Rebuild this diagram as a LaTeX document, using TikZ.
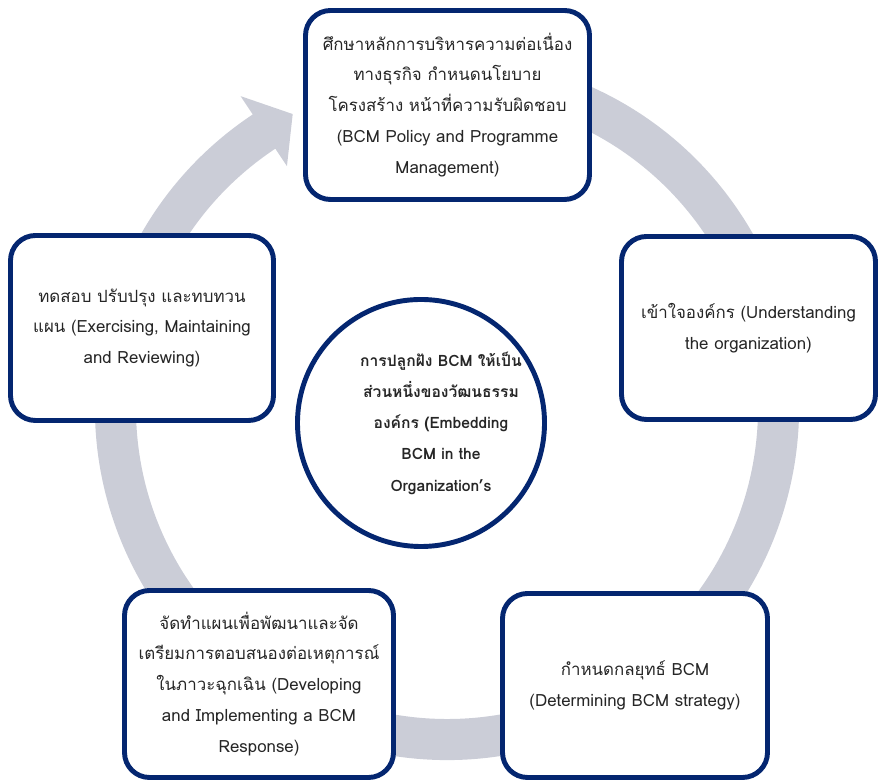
\documentclass[tikz,border=0pt]{standalone}
\usepackage{fontspec}
\setmainfont[Script=Thai]{Loma}
\usetikzlibrary{calc}
\definecolor{bcmnavy}{RGB}{4,38,112}
\definecolor{ringgray}{RGB}{203,205,215}
\definecolor{txtgray}{RGB}{38,38,38}
\begin{document}
\begin{tikzpicture}[
  stagebox/.style={rectangle, rounded corners=0.5cm, draw=bcmnavy, line width=2.8pt,
    fill=white, align=center, text=txtgray, font=\fontsize{9.6}{17.6}\selectfont},
  corecircle/.style={circle, draw=bcmnavy, line width=2.8pt, fill=white,
    inner sep=0pt, minimum size=4.94cm},
  coretext/.style={align=center, text=txtgray, font=\bfseries\fontsize{8.9}{17.8}\selectfont}]
\useasboundingbox (0,0) rectangle (17.56,15.6);
\coordinate (ctr) at (8.94,7.44);
% grey cycle arrow behind the boxes
\fill[ringgray] ($(ctr)+(75:7.04)$) arc[start angle=75, end angle=-236.5, radius=7.04cm]
  -- ($(ctr)+(123.5:7.48)$) -- ($(ctr)+(117.7:6.64)$) -- ($(ctr)+(123.5:5.80)$)
  -- ($(ctr)+(123.5:6.22)$) arc[start angle=123.5, end angle=435, radius=6.22cm] -- cycle;
% stages
\node[stagebox, minimum width=5.68cm, minimum height=3.78cm] (policy) at (8.95,13.50)
  {ศึกษาหลักการบริหารความต่อเนื่อง\\ทางธุรกิจ กำหนดนโยบาย\\โครงสร้าง หน้าที่ความรับผิดชอบ\\(BCM Policy and Programme\\Management)};
\node[stagebox, minimum width=5.08cm, minimum height=3.66cm] (understand) at (14.97,9.04)
  {เข้าใจองค์กร (Understanding\\the organization)};
\node[stagebox, minimum width=5.30cm, minimum height=3.68cm] (strategy) at (12.70,1.89)
  {กำหนดกลยุทธ์ BCM\\(Determining BCM strategy)};
\node[stagebox, minimum width=5.38cm, minimum height=3.74cm] (response) at (5.18,1.92)
  {จัดทำแผนเพื่อพัฒนาและจัด\\เตรียมการตอบสนองต่อเหตุการณ์\\ในภาวะฉุกเฉิน (Developing\\and Implementing a BCM\\Response)};
\node[stagebox, minimum width=5.26cm, minimum height=3.70cm] (exercise) at (2.84,9.04)
  {ทดสอบ ปรับปรุง และทบทวน\\แผน (Exercising, Maintaining\\and Reviewing)};
% core
\node[corecircle] (embed) at (8.42,7.14) {};
\node[coretext] (embedtext) at ([xshift=0.4cm]embed.center)
  {การปลูกฝัง BCM ให้เป็น\\ส่วนหนึ่งของวัฒนธรรม\\องค์กร (Embedding\\BCM in the\\Organization’s};
\end{tikzpicture}
\end{document}
